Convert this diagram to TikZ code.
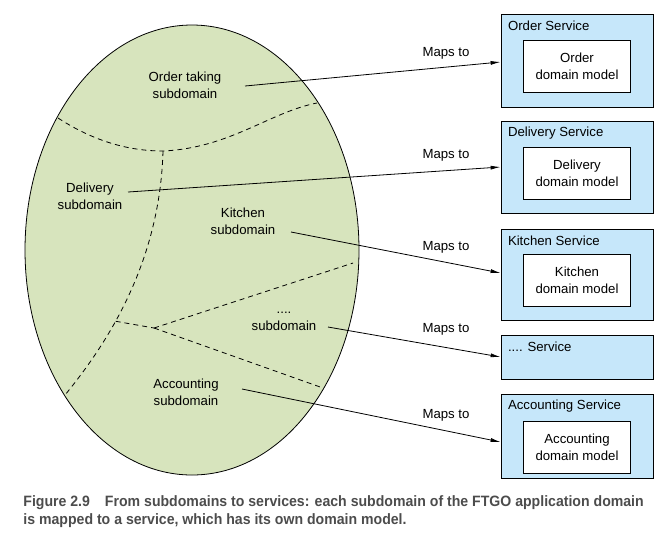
\documentclass[tikz,border=0pt]{standalone}
\usepackage{fontspec}
\setmainfont{Liberation Sans}
\newfontfamily\captionfont[FakeStretch=0.94]{Liberation Sans Bold}
\usetikzlibrary{arrows.meta, positioning, shapes.geometric}
\definecolor{domaingreen}{RGB}{215,228,189}
\definecolor{serviceblue}{RGB}{198,231,250}
\newcommand{\labelfont}{\fontsize{13.2}{17}\selectfont}
\tikzstyle{subdomain} = [align=center, font=\labelfont, inner sep=0pt]
\tikzstyle{service} = [draw, fill=serviceblue, minimum width=152pt, minimum height=93pt, inner sep=0pt]
\tikzstyle{model} = [draw, fill=white, minimum width=107pt, minimum height=52pt, align=center, font=\labelfont, inner sep=0pt]
\tikzstyle{title} = [anchor=west, font=\labelfont, inner sep=0pt]
\tikzstyle{boundary} = [dash pattern=on 5pt off 4pt]
\tikzstyle{maps} = [-{Latex[length=10pt, width=4pt]}]

\begin{document}
\begin{tikzpicture}[x=1pt, y=-1pt, line width=0.8pt]
    \useasboundingbox (0, 0) rectangle (660, 550);

    % Application domain.
    \node (domain) [ellipse, draw, fill=domaingreen, minimum width=334pt, minimum height=450pt, inner sep=0pt] at (192, 250) {};

    % Subdomain boundaries.
    \draw [boundary] (58, 118) .. controls (95, 142) and (130, 151) .. (163, 151)
        .. controls (230, 148) and (270, 112) .. (317, 103);
    \draw [boundary] (163, 151) .. controls (160, 260) and (110, 340) .. (65, 395)
        coordinate [pos=0.62] (split);
    \coordinate (fork) at (154, 328);
    \draw [boundary] (split) -- (fork);
    \draw [boundary] (fork) -- (353, 263);
    \draw [boundary] (fork) -- (323, 388);

    % Subdomains.
    \node (order sub) [subdomain] at (185, 85) {Order taking\\subdomain};
    \node (delivery sub) [subdomain] at (90, 196) {Delivery\\subdomain};
    \node (kitchen sub) [subdomain] at (243, 221) {Kitchen\\subdomain};
    \node (more sub) [subdomain] at (284, 321) {....\\subdomain};
    \node (accounting sub) [subdomain] at (186, 392) {Accounting\\subdomain};

    % Services.
    \node (order svc) [service] at (577, 60.5) {};
    \node (order title) [title] at ([xshift=7pt, yshift=-12pt]order svc.north west) {Order Service};
    \node (order model) [model, below=26pt of order svc.north] {Order\\domain model};

    \node (delivery svc) [service, minimum height=92pt] at (577, 167) {};
    \node (delivery title) [title] at ([xshift=7pt, yshift=-12pt]delivery svc.north west) {Delivery Service};
    \node (delivery model) [model, below=26pt of delivery svc.north] {Delivery\\domain model};

    \node (kitchen svc) [service, minimum height=91pt] at (577, 274.5) {};
    \node (kitchen title) [title] at ([xshift=7pt, yshift=-12pt]kitchen svc.north west) {Kitchen Service};
    \node (kitchen model) [model, below=25pt of kitchen svc.north] {Kitchen\\domain model};

    \node (more svc) [service, minimum height=44pt] at (577, 357) {};
    \node (more title) [title] at ([xshift=7pt, yshift=-12pt]more svc.north west) {.... Service};

    \node (accounting svc) [service, minimum height=84pt] at (577, 436) {};
    \node (accounting title) [title] at ([xshift=7pt, yshift=-12pt]accounting svc.north west) {Accounting Service};
    \node (accounting model) [model, below=27pt of accounting svc.north] {Accounting\\domain model};

    % Mappings.
    \coordinate (order from) at (245, 86);
    \coordinate (delivery from) at (128, 192);
    \coordinate (kitchen from) at (291, 232);
    \coordinate (more from) at (328, 327);
    \coordinate (accounting from) at (242, 389);

    \draw [maps] (order from) -- ([yshift=-1.5pt]order svc.west);
    \draw [maps] (delivery from) -- (delivery svc.west);
    \draw [maps] (kitchen from) -- ([yshift=1.5pt]kitchen svc.west);
    \draw [maps] (more from) -- (more svc.west);
    \draw [maps] (accounting from) -- ([yshift=-6pt]accounting svc.west);

    \foreach \name/\y in {order/53, delivery/155, kitchen/247, more/329, accounting/415} {
        \node (\name\space maps) [font=\labelfont, inner sep=0pt] at (446, \y) {Maps to};
    }

    % Caption.
    \node (caption) [anchor=base west, inner sep=0pt, align=left, text=black!70,
        font=\captionfont\fontsize{15}{18}\selectfont] at (23, 524)
        {Figure 2.9\quad From subdomains to services: each subdomain of the FTGO application domain\\
         is mapped to a service, which has its own domain model.};
\end{tikzpicture}
\end{document}
